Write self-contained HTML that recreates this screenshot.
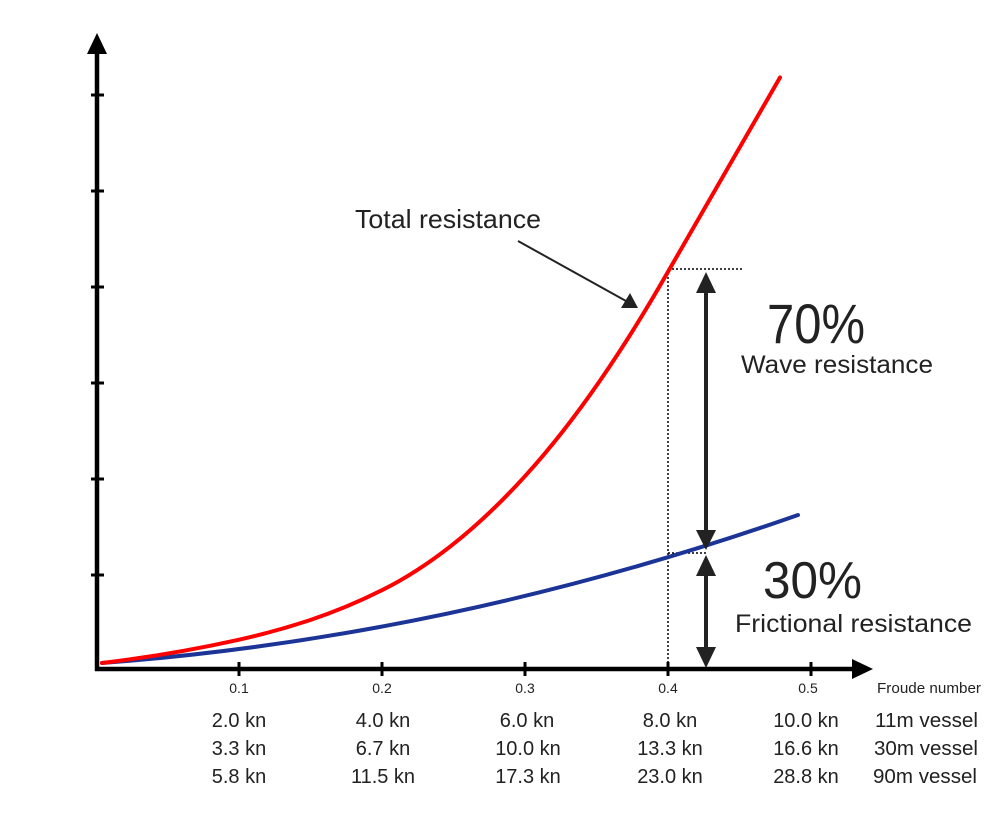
<!DOCTYPE html>
<html><head><meta charset="utf-8"><style>
html,body{margin:0;padding:0;background:#fff;}
svg{display:block;}
text{font-family:"Liberation Sans",sans-serif;fill:#222;}
</style></head><body>
<svg width="996" height="814" viewBox="0 0 996 814" xmlns="http://www.w3.org/2000/svg">
<rect width="996" height="814" fill="#fff"/>
<!-- axes -->
<line x1="97" y1="50" x2="97" y2="671" stroke="#000" stroke-width="4.5"/>
<polygon points="97,33 87,54 107,54" fill="#000"/>
<line x1="95" y1="669" x2="856" y2="669" stroke="#000" stroke-width="4.5"/>
<polygon points="873,669 852,659 852,679" fill="#000"/>
<!-- ticks -->
<g stroke="#000" stroke-width="3">
<line x1="91" y1="95" x2="104" y2="95"/>
<line x1="91" y1="191" x2="104" y2="191"/>
<line x1="91" y1="287" x2="104" y2="287"/>
<line x1="91" y1="383" x2="104" y2="383"/>
<line x1="91" y1="479" x2="104" y2="479"/>
<line x1="91" y1="575" x2="104" y2="575"/>
<line x1="239" y1="662" x2="239" y2="676"/>
<line x1="382" y1="662" x2="382" y2="676"/>
<line x1="525" y1="662" x2="525" y2="676"/>
<line x1="668" y1="662" x2="668" y2="676"/>
<line x1="811" y1="662" x2="811" y2="676"/>
</g>
<!-- dotted guides -->
<g stroke="#000" stroke-width="1.5" stroke-dasharray="2,2" fill="none">
<line x1="668" y1="269" x2="668" y2="664"/>
<line x1="668" y1="269" x2="743" y2="269"/>
<line x1="668" y1="553" x2="706" y2="553"/>
</g>
<!-- blue curve -->
<path fill="none" stroke="#1d3497" stroke-width="4" stroke-linecap="round"
d="M102,663 Q450,637 798,515"/>
<!-- red curve -->
<path fill="none" stroke="#ff0000" stroke-width="4" stroke-linecap="round"
d="M102,663 C147.3,657.6 192.7,649.9 238,639.9 C262,634.6 286,628 310,620.1 C334,612.2 358,602.2 382,590.2 C404.7,578.9 427.3,564.4 450,546.7 C475,527.2 500,503.7 525,476.2 C550,448.7 575,416.9 600,380.6 C622.7,347.7 645.3,311.5 668,271.8 C705.3,206.5 742.7,141.7 780,77.5"/>
<!-- double arrows -->
<g fill="#222" stroke="#222">
<line x1="706" y1="288" x2="706" y2="538" stroke-width="4"/>
<polygon points="706,272 696,293 716,293" stroke="none"/>
<polygon points="706,550 696,530 716,530" stroke="none"/>
<line x1="706" y1="572" x2="706" y2="652" stroke-width="4"/>
<polygon points="706,555 696,576 716,576" stroke="none"/>
<polygon points="706,668 696,647 716,647" stroke="none"/>
</g>
<!-- annotation arrow -->
<line x1="518" y1="241" x2="626" y2="301" stroke="#222" stroke-width="2"/>
<polygon points="638,308 621,308 630,293" fill="#222"/>
<!-- labels -->
<text x="355" y="228" font-size="26" textLength="186" lengthAdjust="spacingAndGlyphs">Total resistance</text>
<text x="767" y="343" font-size="56" textLength="98" lengthAdjust="spacingAndGlyphs">70%</text>
<text x="741" y="373" font-size="25" textLength="192" lengthAdjust="spacingAndGlyphs">Wave resistance</text>
<text x="763" y="598" font-size="52" textLength="99" lengthAdjust="spacingAndGlyphs">30%</text>
<text x="735" y="632" font-size="25" textLength="237" lengthAdjust="spacingAndGlyphs">Frictional resistance</text>
<!-- x tick labels -->
<g font-size="14" text-anchor="middle">
<text x="239" y="693">0.1</text>
<text x="382" y="693">0.2</text>
<text x="525" y="693">0.3</text>
<text x="668" y="693">0.4</text>
<text x="808" y="693">0.5</text>
</g>
<text x="877" y="693" font-size="15" textLength="104" lengthAdjust="spacingAndGlyphs">Froude number</text>
<g font-size="20" text-anchor="middle">
<text x="239" y="727">2.0 kn</text>
<text x="239" y="755">3.3 kn</text>
<text x="239" y="783">5.8 kn</text>
<text x="383" y="727">4.0 kn</text>
<text x="383" y="755">6.7 kn</text>
<text x="383" y="783">11.5 kn</text>
<text x="527" y="727">6.0 kn</text>
<text x="528" y="755">10.0 kn</text>
<text x="528" y="783">17.3 kn</text>
<text x="670" y="727">8.0 kn</text>
<text x="670" y="755">13.3 kn</text>
<text x="670" y="783">23.0 kn</text>
<text x="806" y="727">10.0 kn</text>
<text x="806" y="755">16.6 kn</text>
<text x="806" y="783">28.8 kn</text>
</g>
<g font-size="20">
<text x="875" y="727" textLength="103" lengthAdjust="spacingAndGlyphs">11m vessel</text>
<text x="874" y="755" textLength="104" lengthAdjust="spacingAndGlyphs">30m vessel</text>
<text x="873" y="783" textLength="104" lengthAdjust="spacingAndGlyphs">90m vessel</text>
</g>
</svg>
</body></html>
